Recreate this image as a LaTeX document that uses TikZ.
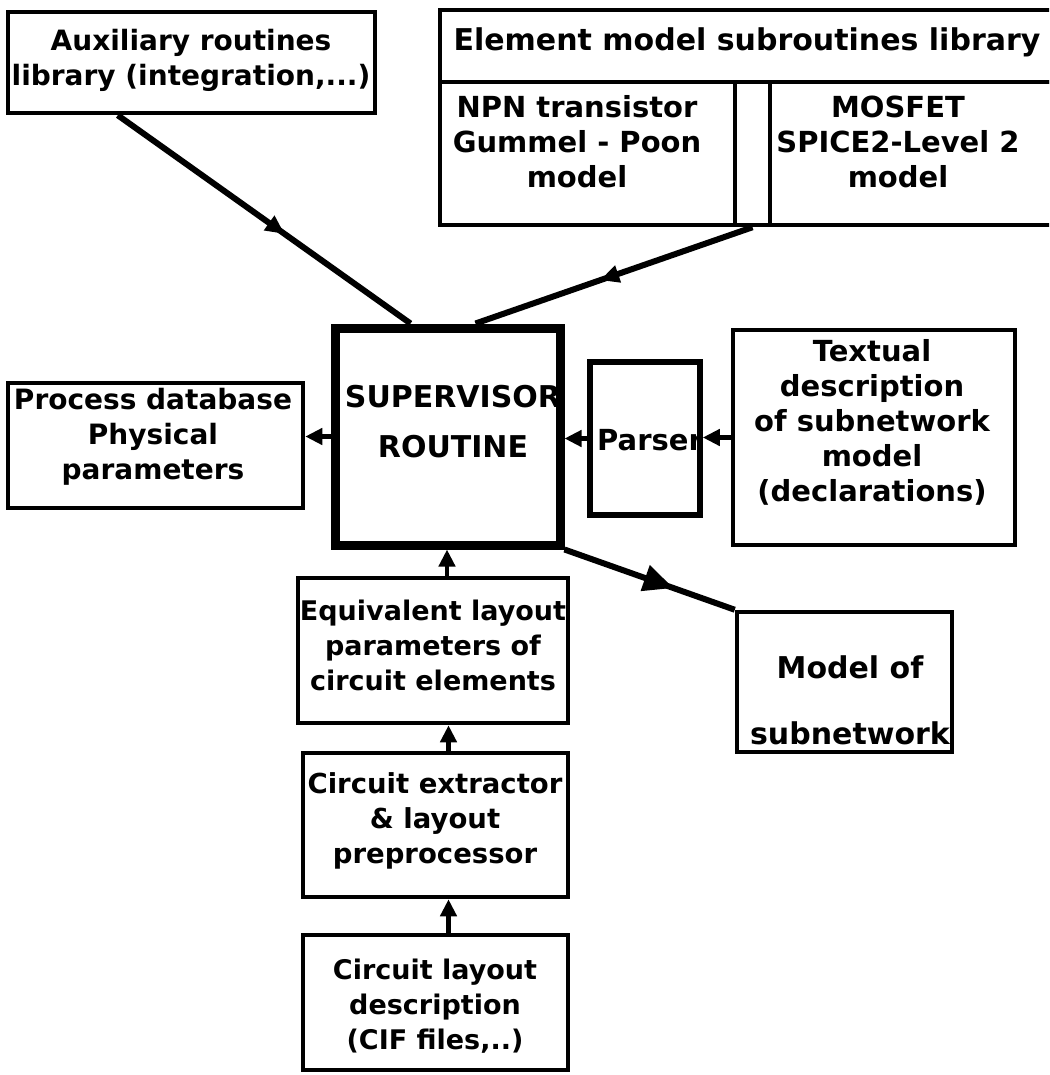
\documentclass[tikz,border=0pt]{standalone}
\usepackage{fontspec}
\setmainfont{DejaVu Sans}
\usetikzlibrary{arrows.meta,decorations.markings,calc}
\begin{document}
\begin{tikzpicture}[x=1pt,y=-1pt,
  box/.style={draw, line width=4.5pt, rectangle, inner sep=0pt},
  txt/.style={align=center, inner sep=0pt, font=\fontsize{#1}{35}\selectfont\bfseries},
  txt/.default=29,
  conn/.style={line width=6pt},
  link/.style={line width=4.5pt, -{Triangle[length=17pt,width=16pt]}},
  midtip/.style={postaction={decorate}, decoration={markings, mark=at position #1 with {\arrow{Triangle[length=19pt,width=17pt]}}}},
  bigtip/.style={postaction={decorate}, decoration={markings, mark=at position #1 with {\arrow{Triangle[length=30pt,width=26pt]}}}}
]
\fill[white] (0,0) rectangle (1049,1075);
\useasboundingbox (0,0) rectangle (1049,1075);
\clip (0,0) rectangle (1049,1075);

% boxes
\node[box, minimum width=367pt, minimum height=101pt] (aux) at (191.5,62.5) {};
\node[box, minimum width=620pt, minimum height=72pt] (elib) at (750,46) {};
\node[box, minimum width=295pt, minimum height=143pt] (npn) at (587.5,153.5) {};
\node[box, minimum width=35pt, minimum height=143pt] (narrow) at (752.5,153.5) {};
\node[box, minimum width=290pt, minimum height=143pt] (mosfet) at (915,153.5) {};
\node[box, line width=9pt, minimum width=225pt, minimum height=217pt] (sup) at (447.5,436.5) {};
\node[box, minimum width=295pt, minimum height=125pt] (proc) at (155.5,445.5) {};
\node[box, line width=5.5pt, minimum width=110pt, minimum height=153pt] (parser) at (645,438.5) {};
\node[box, minimum width=282pt, minimum height=215pt] (textual) at (874,437.5) {};
\node[box, minimum width=270pt, minimum height=145pt] (eq) at (433,650.5) {};
\node[box, minimum width=215pt, minimum height=140pt] (model) at (844.5,682) {};
\node[box, minimum width=265pt, minimum height=144pt] (ext) at (435.5,825) {};
\node[box, minimum width=265pt, minimum height=135pt] (lay) at (435.5,1002.5) {};

% texts
\node[txt=28] (auxT) at (191,60) {Auxiliary routines\\library (integration,...)};
\node[txt=30] (elibT) at (747,42) {Element model subroutines library};
\node[txt=29] (npnT) at (577,142) {NPN transistor\\Gummel - Poon\\model};
\node[txt=29] (mosT) at (898,142) {MOSFET\\SPICE2-Level 2\\model};
\node[txt=30] (supT) at (453,422) {SUPERVISOR\\[15pt]ROUTINE};
\node[txt=28] (procT) at (153,437) {Process database\\Physical\\parameters};
\node[txt=29] (parserT) at (650,440) {Parser};
\node[txt=29] (textT) at (872,422) {Textual\\description\\of subnetwork\\model\\(declarations)};
\node[txt=27] (eqT) at (433,645) {Equivalent layout\\parameters of\\circuit elements};
\node[txt=30] (modelT) at (850,700) {Model of\\[31pt]subnetwork};
\node[txt=27.5] (extT) at (435,821) {Circuit extractor\\\& layout\\preprocessor};
\node[txt=27] (layT) at (435,1006) {Circuit layout\\description\\(CIF files,..)};

% connectors
\draw[conn, midtip=0.57] ([xshift=112pt]aux.south west) -- ([xshift=80pt]sup.north west);
\draw[conn, midtip=0.55] (narrow.south) -- ([xshift=145pt]sup.north west);
\draw[conn, bigtip=0.64] (sup.south east) -- (model.north west);
\draw[link] (sup.west) -- (sup.west -| proc.east);
\draw[link] (parser.west) -- (parser.west -| sup.east);
\draw[link] (textual.west) -- (textual.west -| parser.east);
\draw[link] ([xshift=14pt]eq.north) -- ([xshift=14pt]eq.north |- sup.south);
\draw[link] ([xshift=13pt]ext.north) -- ([xshift=13pt]ext.north |- eq.south);
\draw[link] ([xshift=13pt]lay.north) -- ([xshift=13pt]lay.north |- ext.south);
\end{tikzpicture}
\end{document}
